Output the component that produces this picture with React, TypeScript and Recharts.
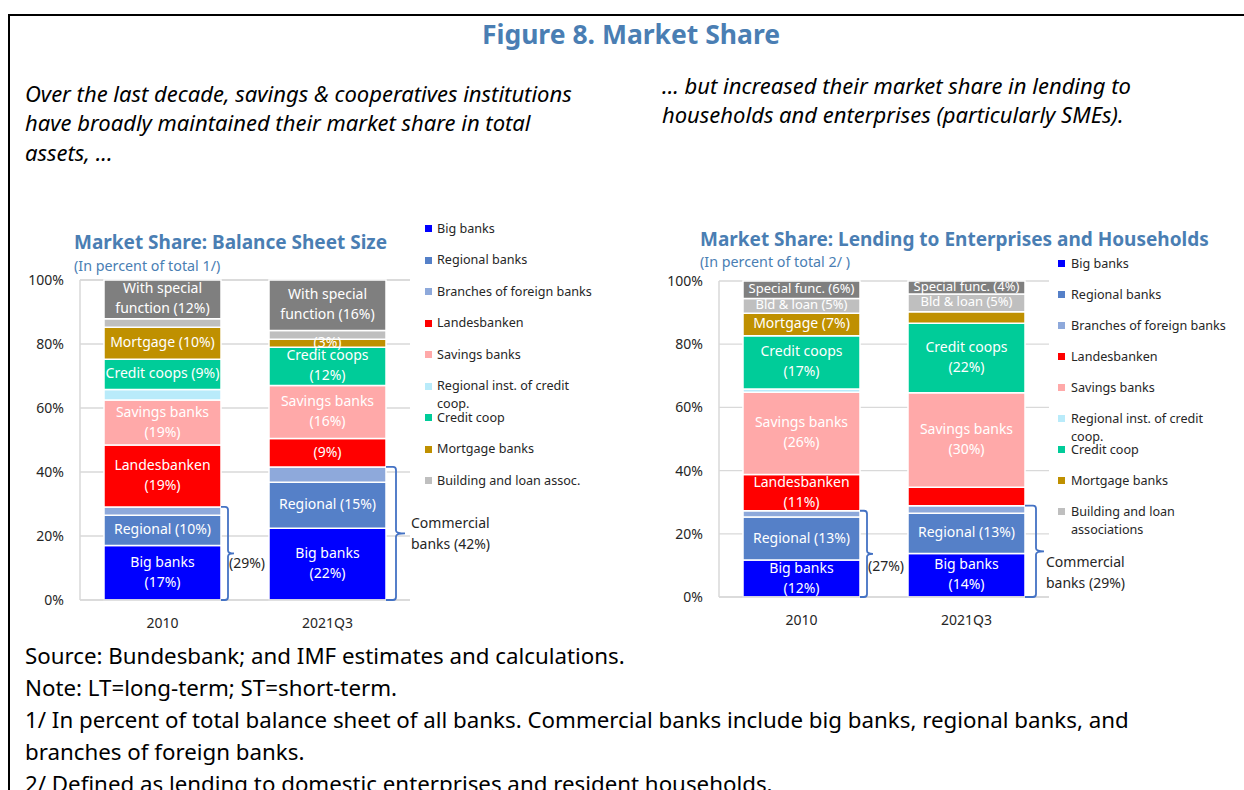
import React from "react";
import { BarChart, Bar, XAxis, YAxis, CartesianGrid, LabelList } from "recharts";

const FONT = "'Noto Sans', 'Open Sans', sans-serif";
const TITLE_BLUE = "#4A7EB3";
const TEXT_DARK = "#262626";
const GRID = "#D9D9D9";
const BRACKET = "#4472C4";

// ---------- data ----------
const categories = ["2010", "2021Q3"];
const seriesKeys = ["big", "regional", "branches", "landes", "savings", "regInst", "creditCoop", "mortgage", "building", "special"];
const seriesColors = ["#0000FF", "#5580C8", "#8EA9DB", "#FF0000", "#FFA9A9", "#B9EBFA", "#00CC99", "#BF9000", "#BFBFBF", "#7F7F7F"];

const balanceLegend = ["Big banks", "Regional banks", "Branches of foreign banks", "Landesbanken", "Savings banks", "Regional inst. of credit\ncoop.", "Credit coop", "Mortgage banks", "Building and loan assoc."];
const lendingLegend = ["Big banks", "Regional banks", "Branches of foreign banks", "Landesbanken", "Savings banks", "Regional inst. of credit\ncoop.", "Credit coop", "Mortgage banks", "Building and loan\nassociations"];

// values in percent, stacked bottom -> top in the order of seriesKeys
const balance2010 = [17.0, 9.5, 2.6, 19.3, 14.1, 3.3, 9.4, 10.0, 2.7, 12.1];
const balance2021Q3 = [22.4, 14.4, 4.8, 8.9, 16.5, 0, 12.0, 2.5, 2.7, 15.8];
const lending2010 = [11.7, 13.6, 2.0, 11.5, 26.0, 1.0, 16.9, 7.1, 4.7, 5.5];
const lending2021Q3 = [13.8, 12.7, 2.4, 5.8, 29.9, 0, 22.0, 3.7, 5.6, 4.1];

const balanceLabels2010 = ["Big banks\n(17%)", "Regional (10%)", "", "Landesbanken\n(19%)", "Savings banks\n(19%)", "", "Credit coops (9%)", "Mortgage (10%)", "", "With special\nfunction (12%)"];
const balanceLabels2021Q3 = ["Big banks\n(22%)", "Regional (15%)", "", "(9%)", "Savings banks\n(16%)", "", "Credit coops\n(12%)", "(3%)", "", "With special\nfunction (16%)"];
const lendingLabels2010 = ["Big banks\n(12%)", "Regional (13%)", "", "Landesbanken\n(11%)", "Savings banks\n(26%)", "", "Credit coops\n(17%)", "Mortgage (7%)", "Bld & loan (5%)", "Special func. (6%)"];
const lendingLabels2021Q3 = ["Big banks\n(14%)", "Regional (13%)", "", "", "Savings banks\n(30%)", "", "Credit coops\n(22%)", "", "Bld & loan (5%)", "Special func. (4%)"];

const balanceCommercial = ["(29%)", "Commercial\nbanks (42%)"];
const lendingCommercial = ["(27%)", "Commercial\nbanks (29%)"];

const yTicks = [0, 20, 40, 60, 80, 100];

const footerLines = [
  "Source: Bundesbank; and IMF estimates and calculations.",
  "Note: LT=long-term; ST=short-term.",
  "1/ In percent of total balance sheet of all banks. Commercial banks include big banks, regional banks, and",
  "branches of foreign banks.",
  "2/ Defined as lending to domestic enterprises and resident households.",
];

// ---------- helpers ----------
function buildRows(valuesByCat: number[][]) {
  return categories.map((c, i) => {
    const row: any = { category: c };
    seriesKeys.forEach((k, j) => {
      row[k] = valuesByCat[i][j];
    });
    return row;
  });
}

function segLabel(labelsByCat: string[][], seriesIdx: number, fontSize: number) {
  return (props: any) => {
    const vb = props.viewBox || {};
    const x = Number(props.x ?? vb.x);
    const y = Number(props.y ?? vb.y);
    const w = Number(props.width ?? vb.width);
    const h = Number(props.height ?? vb.height);
    const idx = props.index;
    const text = labelsByCat[idx] ? labelsByCat[idx][seriesIdx] : "";
    if (!text) return null;
    const lines = text.split("\n");
    const top = Math.min(y, y + h);
    const cx = x + w / 2;
    const cy = top + Math.abs(h) / 2 - 1;
    const lh = 20;
    const first = cy - ((lines.length - 1) * lh) / 2;
    return (
      <text textAnchor="middle" fill="#FFFFFF" fontSize={fontSize} fontFamily={FONT}>
        {lines.map((l, i) => (
          <tspan key={i} x={cx} y={first + i * lh + fontSize * 0.36}>
            {l}
          </tspan>
        ))}
      </text>
    );
  };
}

type BracketCfg = { arm: number[]; tip: number[]; textDx: number[]; textDy: number[] };

function bracketLabel(totals: number[], annot: string[], cfg: BracketCfg) {
  return (props: any) => {
    const vb = props.viewBox || {};
    const x = Number(props.x ?? vb.x);
    const y = Number(props.y ?? vb.y);
    const w = Number(props.width ?? vb.width);
    const h = Number(props.height ?? vb.height);
    const idx = props.index;
    const val = Number(props.value);
    if (!val) return null;
    const bottom = Math.max(y, y + h);
    const pxPer = Math.abs(h) / val;
    const top = bottom - totals[idx] * pxPer;
    const x0 = x + w;
    const xv = x0 + cfg.arm[idx];
    const xt = xv + cfg.tip[idx];
    const ym = (top + bottom) / 2;
    const r = 3;
    const d = `M ${x0} ${top} L ${xv - r} ${top} Q ${xv} ${top} ${xv} ${top + r} L ${xv} ${ym - r} Q ${xv} ${ym} ${xt} ${ym} Q ${xv} ${ym} ${xv} ${ym + r} L ${xv} ${bottom - r} Q ${xv} ${bottom} ${xv - r} ${bottom} L ${x0} ${bottom}`;
    const lines = annot[idx].split("\n");
    const tx = xv + cfg.textDx[idx];
    const ty = ym + cfg.textDy[idx];
    return (
      <g>
        <path d={d} fill="none" stroke={BRACKET} strokeWidth={1.8} />
        <text fill={TEXT_DARK} fontSize={14} fontFamily={FONT}>
          {lines.map((l, i) => (
            <tspan key={i} x={tx} y={ty + i * 21 + 14 * 0.36}>
              {l}
            </tspan>
          ))}
        </text>
      </g>
    );
  };
}

type ChartProps = {
  left: number;
  top: number;
  width: number;
  height: number;
  rightMargin: number;
  rows: any[];
  labels: string[][];
  smallLabelSeries: number[];
  totals: number[];
  annot: string[];
  bracket: BracketCfg;
};

function StackChart(p: ChartProps) {
  return (
    <div style={{ position: "absolute", left: p.left, top: p.top }}>
      <BarChart
        width={p.width}
        height={p.height}
        data={p.rows}
        margin={{ top: 10, right: p.rightMargin, bottom: 10, left: 0 }}
        barSize={117}
      >
        <CartesianGrid vertical={false} stroke={GRID} strokeWidth={1.3} />
        <XAxis
          dataKey="category"
          height={30}
          axisLine={{ stroke: GRID, strokeWidth: 1.5 }}
          tickLine={false}
          tickSize={0}
          tickMargin={18}
          tick={{ fill: TEXT_DARK, fontSize: 14, fontFamily: FONT }}
        />
        <YAxis
          domain={[0, 100]}
          ticks={yTicks}
          width={60}
          tickFormatter={(v: number) => `${v}%`}
          axisLine={{ stroke: GRID, strokeWidth: 1.5 }}
          tickLine={false}
          tickSize={0}
          tickMargin={16}
          tick={{ fill: TEXT_DARK, fontSize: 14, fontFamily: FONT }}
        />
        <YAxis
          yAxisId="frame"
          orientation="right"
          domain={[0, 100]}
          width={0}
          tick={false}
          tickLine={false}
          axisLine={{ stroke: GRID, strokeWidth: 1.5 }}
        />
        {seriesKeys.map((k, j) => (
          <Bar
            key={k}
            dataKey={k}
            stackId="a"
            fill={seriesColors[j]}
            stroke="#FFFFFF"
            strokeWidth={1.5}
            isAnimationActive={false}
          >
            <LabelList
              dataKey={k}
              content={segLabel(p.labels, j, p.smallLabelSeries.includes(j) ? 13 : 14)}
            />
            {j === 0 ? (
              <LabelList dataKey={k} content={bracketLabel(p.totals, p.annot, p.bracket)} />
            ) : null}
          </Bar>
        ))}
      </BarChart>
    </div>
  );
}

function Legend({ names, sqX, textX, y0, step }: { names: string[]; sqX: number; textX: number; y0: number; step: number }) {
  return (
    <>
      {names.map((n, i) => (
        <div key={n} style={{ position: "absolute", left: sqX, top: y0 + i * step - 9 }}>
          <div
            style={{
              position: "absolute",
              left: 0,
              top: 5.5,
              width: 7,
              height: 7,
              background: seriesColors[i],
            }}
          />
          <div
            style={{
              position: "absolute",
              left: textX - sqX,
              top: 0,
              whiteSpace: "pre",
              fontFamily: FONT,
              fontSize: 12.6,
              lineHeight: "18px",
              color: TEXT_DARK,
            }}
          >
            {n}
          </div>
        </div>
      ))}
    </>
  );
}

function sumCommercial(vals: number[]) {
  return vals[0] + vals[1] + vals[2];
}

export default function App() {
  const balanceRows = buildRows([balance2010, balance2021Q3]);
  const lendingRows = buildRows([lending2010, lending2021Q3]);
  const balanceTotals = [sumCommercial(balance2010), sumCommercial(balance2021Q3)];
  const lendingTotals = [sumCommercial(lending2010), sumCommercial(lending2021Q3)];

  const abs = (o: React.CSSProperties): React.CSSProperties => ({ position: "absolute", ...o });

  return (
    <div
      style={{
        position: "absolute",
        left: 0,
        top: 0,
        width: 1244,
        height: 790,
        overflow: "hidden",
        background: "#FFFFFF",
        fontFamily: FONT,
      }}
    >
      <div style={abs({ left: 8, top: 14, width: 1400, height: 1000, borderLeft: "2px solid #000", borderTop: "2px solid #000" })} />

      <div style={abs({ left: 0, width: 1262, top: 19, textAlign: "center", fontSize: 26.5, fontWeight: 700, lineHeight: "30px", color: TITLE_BLUE })}>
        Figure 8. Market Share
      </div>

      <StackChart
        left={20}
        top={270}
        width={470}
        height={370}
        rightMargin={80}
        rows={balanceRows}
        labels={[balanceLabels2010, balanceLabels2021Q3]}
        smallLabelSeries={[]}
        totals={balanceTotals}
        annot={balanceCommercial}
        bracket={{ arm: [7, 10], tip: [6, 9], textDx: [1, 15], textDy: [10, -10] }}
      />
      <StackChart
        left={659}
        top={271}
        width={585}
        height={366}
        rightMargin={195}
        rows={lendingRows}
        labels={[lendingLabels2010, lendingLabels2021Q3]}
        smallLabelSeries={[8, 9]}
        totals={lendingTotals}
        annot={lendingCommercial}
        bracket={{ arm: [7, 11], tip: [6, 8], textDx: [1, 10], textDy: [12, 11] }}
      />

      <div style={abs({ left: 25, top: 78.5, fontSize: 22, fontStyle: "italic", lineHeight: "29.5px", color: "#000", whiteSpace: "pre" })}>
        {"Over the last decade, savings & cooperatives institutions\nhave broadly maintained their market share in total\nassets, ..."}
      </div>
      <div style={abs({ left: 662, top: 70.5, fontSize: 22, fontStyle: "italic", lineHeight: "29px", color: "#000", whiteSpace: "pre" })}>
        {"... but increased their market share in lending to\nhouseholds and enterprises (particularly SMEs)."}
      </div>

      <div style={abs({ left: 74, top: 231, fontSize: 19, fontWeight: 700, lineHeight: "22px", color: TITLE_BLUE, whiteSpace: "pre" })}>
        Market Share: Balance Sheet Size
      </div>
      <div style={abs({ left: 74, top: 256.5, fontSize: 14.3, lineHeight: "18px", color: TITLE_BLUE, whiteSpace: "pre" })}>
        (In percent of total 1/)
      </div>
      <div style={abs({ left: 700, top: 227.5, fontSize: 19, fontWeight: 700, lineHeight: "22px", color: TITLE_BLUE, whiteSpace: "pre" })}>
        Market Share: Lending to Enterprises and Households
      </div>
      <div style={abs({ left: 700, top: 253, fontSize: 14.3, lineHeight: "18px", color: TITLE_BLUE, whiteSpace: "pre" })}>
        (In percent of total 2/ )
      </div>

      <Legend names={balanceLegend} sqX={425} textX={437} y0={228.5} step={31.5} />
      <Legend names={lendingLegend} sqX={1058} textX={1071} y0={263.5} step={31} />

      <div style={abs({ left: 25, top: 640, fontSize: 22.3, lineHeight: "32px", color: "#000", whiteSpace: "pre" })}>
        {footerLines.join("\n")}
      </div>
    </div>
  );
}
